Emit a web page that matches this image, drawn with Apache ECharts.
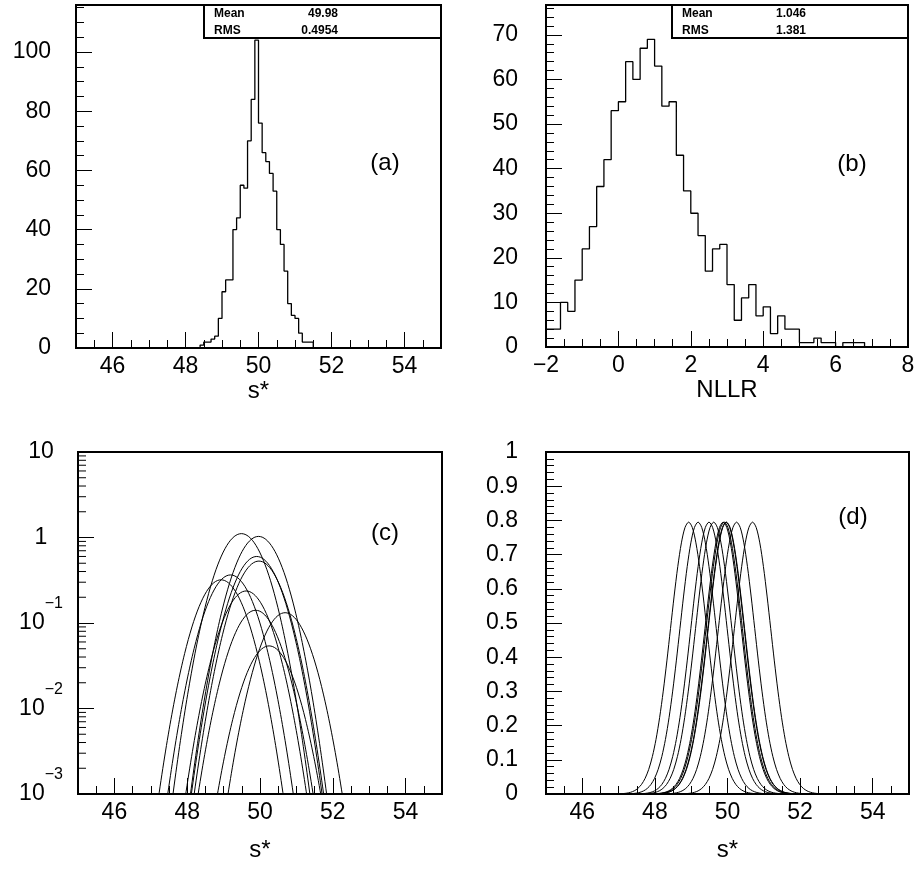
<!DOCTYPE html>
<html><head><meta charset="utf-8">
<script src="https://cdn.jsdelivr.net/npm/echarts@6/dist/echarts.min.js"></script>
<style>html,body{margin:0;padding:0;background:#fff}#c{width:919px;height:871px}</style>
</head><body><div id="c"></div>
<script>
// ---- (a) histogram of s* : bins of 0.1 starting at 48.4 ----
const aBinStart = 48.4;
const aBinWidth = 0.1;
const aCounts = [1,2,2,3,4,10,19,23,23,40,44,55,54,70,84,104,76,66,63,59,53,40,35,26,15,11,10,5,2,2,2];
const aStatLabels = ['Mean', 'RMS'];
const aStatValues = ['49.98', '0.4954'];

// ---- (b) histogram of NLLR : bins of 0.2 starting at -2 ----
const bBinStart = -2;
const bBinWidth = 0.2;
const bCounts = [4,4,10,8,15,22,27,36,42,53,55,64,60,67,69,63,54,55,43,35,30,25,17,22,23,14,6,11,14,7,9,3,7,4,4,1,1,2,1,1,0,1,1,1];
const bStatLabels = ['Mean', 'RMS'];
const bStatValues = ['1.046', '1.381'];

// ---- (c),(d) likelihood curves : centres and peak heights ----
const curveCenters = [49.49, 49.96, 49.91, 49.97, 49.19, 48.93, 49.62, 49.88, 50.69, 50.25];
const curvePeaksC  = [1.11, 1.03, 0.60, 0.53, 0.365, 0.32, 0.237, 0.141, 0.132, 0.054];
// common curve shape: offset from centre -> height
const profileOffsets = [-2.2,-2.1,-2.0,-1.9,-1.8,-1.7,-1.6,-1.5,-1.4,-1.3,-1.2,-1.1,-1.0,-0.9,-0.8,-0.7,-0.6,-0.5,-0.4,-0.3,-0.2,-0.1,0,0.1,0.2,0.3,0.4,0.5,0.6,0.7,0.8,0.9,1.0,1.1,1.2,1.3,1.4,1.5,1.6,1.7,1.8,1.9,2.0,2.1,2.2];
const profileD = [0.0000537,0.000126,0.000284,0.000616,0.001283,0.00257,0.004947,0.009158,0.01627,0.0278,0.04566,0.07208,0.1093,0.1594,0.2233,0.3008,0.3892,0.4841,0.5788,0.6649,0.7343,0.7794,0.795,0.7794,0.7343,0.6649,0.5788,0.4841,0.3892,0.3008,0.2233,0.1594,0.1093,0.07208,0.04566,0.0278,0.01627,0.009158,0.004947,0.00257,0.001283,0.000616,0.000284,0.000126,0.0000537];

// ---- axis ranges / ticks ----
const sRange = [45, 55];
const nllrRange = [-2, 8];
const aYMax = 115.9;
const bYMax = 76.7;
const logMinorTicks = [0.002,0.003,0.004,0.005,0.006,0.007,0.008,0.009,0.02,0.03,0.04,0.05,0.06,0.07,0.08,0.09,0.2,0.3,0.4,0.5,0.6,0.7,0.8,0.9,2,3,4,5,6,7,8,9];

const FONT = 'Liberation Sans';
const BLK = '#000';

function histPoints(start, width, counts, lo, hi) {
  const pts = [[lo, 0]];
  counts.forEach((c, i) => pts.push([+(start + i * width).toFixed(4), c]));
  pts.push([+(start + counts.length * width).toFixed(4), 0]);
  pts.push([hi, 0]);
  return pts;
}

const labelStyle = {color: BLK, fontFamily: FONT, fontSize: 23};
const nameStyle = {color: BLK, fontFamily: FONT, fontSize: 24};

function majorAxis(extra) {
  return Object.assign({
    type: 'value',
    axisLine: {show: true, onZero: false, lineStyle: {color: BLK, width: 2}},
    axisTick: {show: true, inside: true, length: 16, lineStyle: {color: BLK, width: 1}},
    minorTick: {show: false},
    splitLine: {show: false},
    minorSplitLine: {show: false},
  }, extra);
}
function minorAxis(extra) {
  return Object.assign({
    type: 'value',
    axisLine: {show: false, onZero: false},
    axisTick: {show: true, inside: true, length: 8, lineStyle: {color: BLK, width: 1}},
    axisLabel: {show: false},
    splitLine: {show: false},
  }, extra);
}

const grids = [
  {left: 76, top: 5, width: 365, height: 343},
  {left: 546, top: 5, width: 362, height: 342},
  {left: 78, top: 452, width: 364, height: 342},
  {left: 546, top: 452, width: 363, height: 342},
].map(g => Object.assign(g, {show: true, borderColor: BLK, borderWidth: 2, backgroundColor: 'transparent', containLabel: false, outerBoundsMode: 'none'}));

const xAxes = [
  majorAxis({gridIndex: 0, position: 'bottom', min: sRange[0], max: sRange[1], splitNumber: 5,
    axisLabel: Object.assign({margin: 7, showMinLabel: false, showMaxLabel: false}, labelStyle),
    name: 's*', nameLocation: 'middle', nameGap: 22, nameTextStyle: nameStyle}),
  minorAxis({gridIndex: 0, position: 'bottom', min: sRange[0], max: sRange[1], interval: 0.5}),
  majorAxis({gridIndex: 1, position: 'bottom', min: nllrRange[0], max: nllrRange[1], interval: 2,
    minorTick: {show: true, splitNumber: 4, length: 8, lineStyle: {color: BLK, width: 1}},
    axisLabel: Object.assign({margin: 7, formatter: v => (v < 0 ? '\u2212' + Math.abs(v) : String(v))}, labelStyle),
    name: 'NLLR', nameLocation: 'middle', nameGap: 22, nameTextStyle: nameStyle}),
  majorAxis({gridIndex: 2, position: 'bottom', min: sRange[0], max: sRange[1], splitNumber: 5,
    axisLabel: Object.assign({margin: 7, showMinLabel: false, showMaxLabel: false}, labelStyle),
    name: 's*', nameLocation: 'middle', nameGap: 44, nameTextStyle: nameStyle}),
  minorAxis({gridIndex: 2, position: 'bottom', min: sRange[0], max: sRange[1], interval: 0.5}),
  majorAxis({gridIndex: 3, position: 'bottom', min: sRange[0], max: sRange[1], splitNumber: 5,
    axisLabel: Object.assign({margin: 7, showMinLabel: false, showMaxLabel: false}, labelStyle),
    name: 's*', nameLocation: 'middle', nameGap: 44, nameTextStyle: nameStyle}),
  minorAxis({gridIndex: 3, position: 'bottom', min: sRange[0], max: sRange[1], interval: 0.5}),
];

const yAxes = [
  majorAxis({gridIndex: 0, position: 'left', min: 0, max: aYMax, interval: 20,
    axisLabel: Object.assign({margin: 25, showMaxLabel: false}, labelStyle)}),
  minorAxis({gridIndex: 0, position: 'left', min: 0, max: aYMax, interval: 5}),
  majorAxis({gridIndex: 1, position: 'left', min: 0, max: bYMax, interval: 10,
    axisLabel: Object.assign({margin: 28, showMaxLabel: false}, labelStyle)}),
  minorAxis({gridIndex: 1, position: 'left', min: 0, max: bYMax, interval: 2}),
  majorAxis({gridIndex: 2, position: 'left', type: 'log', logBase: 10, min: 0.001, max: 10,
    axisLabel: {margin: 37, align: 'center',
      formatter: v => {
        const e = Math.round(Math.log10(v));
        if (e === 0) return '{b|1}';
        if (e === 1) return '{b|10}';
        return '{b|10}{s|\u2212' + (-e) + '}';
      },
      rich: {
        b: {fontFamily: FONT, fontSize: 23, color: BLK, lineHeight: 54},
        s: {fontFamily: FONT, fontSize: 16, color: BLK, lineHeight: 16, verticalAlign: 'top'}
      }}}),
  majorAxis({gridIndex: 3, position: 'left', min: 0, max: 1, interval: 0.1,
    minorTick: {show: true, splitNumber: 5, length: 8, lineStyle: {color: BLK, width: 1}},
    axisLabel: Object.assign({margin: 28}, labelStyle)}),
];

const series = [];
series.push({type: 'line', xAxisIndex: 0, yAxisIndex: 0, step: 'end', symbol: 'none', silent: true,
  data: histPoints(aBinStart, aBinWidth, aCounts, sRange[0], sRange[1]),
  lineStyle: {color: BLK, width: 1.3}});
series.push({type: 'line', xAxisIndex: 2, yAxisIndex: 2, step: 'end', symbol: 'none', silent: true,
  data: histPoints(bBinStart, bBinWidth, bCounts, nllrRange[0], nllrRange[1]),
  lineStyle: {color: BLK, width: 1.3}});

const dPeak = profileD[profileOffsets.indexOf(0)];
curveCenters.forEach((c, i) => {
  series.push({type: 'line', xAxisIndex: 3, yAxisIndex: 4, symbol: 'none', silent: true, clip: true,
    smooth: 0.3,
    data: profileOffsets.map((o, j) => [c + o, profileD[j] * curvePeaksC[i] / dPeak]),
    lineStyle: {color: BLK, width: 1}});
  series.push({type: 'line', xAxisIndex: 5, yAxisIndex: 5, symbol: 'none', silent: true, clip: true,
    smooth: 0.3,
    data: profileOffsets.map((o, j) => [c + o, profileD[j]]),
    lineStyle: {color: BLK, width: 1}});
});

// minor ticks of the log axis in (c)
series.push({type: 'custom', xAxisIndex: 3, yAxisIndex: 4, silent: true, clip: false,
  data: logMinorTicks.map(v => [sRange[0], v]),
  renderItem: (params, api) => {
    const p = api.coord([api.value(0), api.value(1)]);
    return {type: 'line', shape: {x1: p[0], y1: p[1], x2: p[0] + 8, y2: p[1]},
      style: {stroke: BLK, lineWidth: 1}};
  }});

function statBox(x, w, labels, values) {
  const els = [{type: 'rect', shape: {x: x, y: 5, width: w, height: 33},
    style: {fill: '#fff', stroke: BLK, lineWidth: 2}, z: 100}];
  labels.forEach((t, i) => {
    els.push({type: 'text', x: x + 10, y: 14 + i * 17, z: 101,
      style: {text: t, fontFamily: FONT, fontSize: 12, fontWeight: 'bold', fill: BLK, verticalAlign: 'middle', align: 'left'}});
    els.push({type: 'text', x: x + 134, y: 14 + i * 17, z: 101,
      style: {text: values[i], fontFamily: FONT, fontSize: 12, fontWeight: 'bold', fill: BLK, verticalAlign: 'middle', align: 'right'}});
  });
  return els;
}
function panelTag(t, x, y) {
  return {type: 'text', x: x, y: y, z: 101,
    style: {text: t, fontFamily: FONT, fontSize: 24, fill: BLK, align: 'center', verticalAlign: 'middle'}};
}

const graphic = [].concat(
  statBox(204, 237, aStatLabels, aStatValues),
  statBox(672, 236, bStatLabels, bStatValues),
  [panelTag('(a)', 385, 163), panelTag('(b)', 852, 164), panelTag('(c)', 385, 533), panelTag('(d)', 853, 517)]
);

const chart = echarts.init(document.getElementById('c'), null, {renderer: 'canvas'});
chart.setOption({
  animation: false,
  backgroundColor: '#fff',
  grid: grids,
  xAxis: xAxes,
  yAxis: yAxes,
  series: series,
  graphic: graphic
});
</script>
</body></html>
